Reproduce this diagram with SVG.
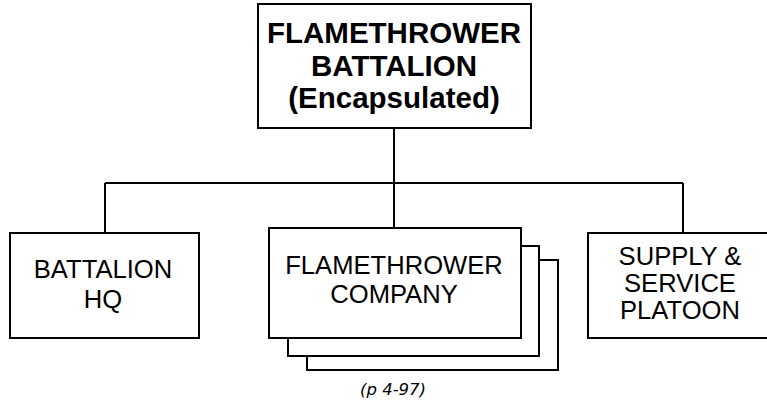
<svg xmlns="http://www.w3.org/2000/svg" width="767" height="404" viewBox="0 0 767 404">
<style>
.box{fill:#fff;stroke:#000;stroke-width:2}
.ln{fill:none;stroke:#000;stroke-width:2}
.t{font-family:"Liberation Sans",Arial,sans-serif;font-size:25.6px;fill:#000;text-anchor:middle}
.b{font-family:"Liberation Sans",Arial,sans-serif;font-size:29.5px;font-weight:bold;fill:#000;text-anchor:middle}
.c{font-family:"DejaVu Sans",Verdana,sans-serif;font-size:16.5px;font-style:italic;fill:#000}
</style>
<rect width="767" height="404" fill="#fff"/>
<g id="connectors">
<path class="ln" d="M394 128V183M105 183H683M105 183V233M394 183V228M683 183V233"/>
</g>
<g id="battalion">
<rect class="box" x="258" y="4" width="273" height="124"/>
<text class="b" x="394" y="43">FLAMETHROWER</text>
<text class="b" x="394" y="75.5">BATTALION</text>
<text class="b" x="394" y="108">(Encapsulated)</text>
</g>
<g id="hq">
<rect class="box" x="10" y="233" width="189" height="105"/>
<text class="t" x="103" y="278">BATTALION</text>
<text class="t" x="103" y="308">HQ</text>
</g>
<g id="company">
<rect class="box" x="307" y="260" width="251" height="110"/>
<rect class="box" x="288" y="246" width="251" height="110"/>
<rect class="box" x="269" y="228" width="252" height="110"/>
<text class="t" x="394" y="274">FLAMETHROWER</text>
<text class="t" x="394" y="303">COMPANY</text>
</g>
<g id="supply">
<rect class="box" x="588" y="233" width="190" height="105"/>
<text class="t" x="680" y="265">SUPPLY &amp;</text>
<text class="t" x="680" y="292">SERVICE</text>
<text class="t" x="680" y="319">PLATOON</text>
</g>
<text class="c" x="360" y="395">(p 4-97)</text>
</svg>
